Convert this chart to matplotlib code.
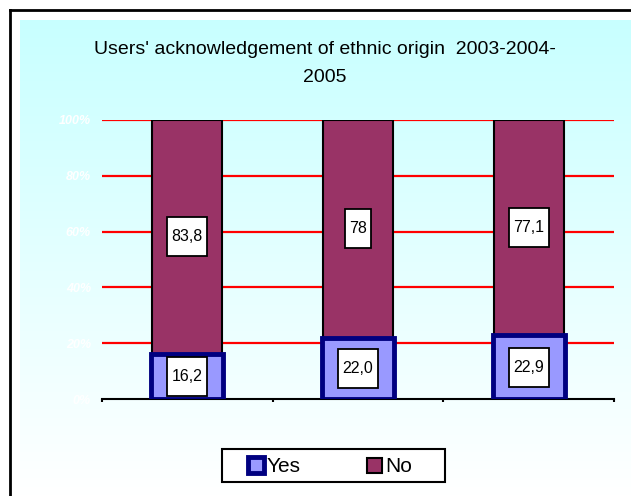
import numpy as np
import matplotlib.pyplot as plt
from matplotlib.lines import Line2D
from matplotlib.patches import Rectangle
from matplotlib.path import Path

# data
years = ['2003', '2004', '2005']
yes_vals = [16.2, 22.0, 22.9]
no_vals = [83.8, 78, 77.1]
yes_labels = ['16,2', '22,0', '22,9']
no_labels = ['83,8', '78', '77,1']
yticks = [0, 20, 40, 60, 80, 100]
ytick_labels = ['0%', '20%', '40%', '60%', '80%', '100%']
series = ['Yes', 'No']

W, H = 631, 496
fig = plt.figure(figsize=(W / 100, H / 100), dpi=100)
fig.patch.set_facecolor('white')


def fx(px):
    return px / W


def fy(py):
    # pixel rows counted from the top
    return 1 - py / H


# gradient background panel (cyan -> white)
bg = fig.add_axes([fx(20), 0, 1 - fx(20), fy(20)], zorder=0)
grad = np.linspace(0, 1, 256).reshape(-1, 1)
top = np.array([200, 255, 255]) / 255
bot = np.array([255, 255, 255]) / 255
img = top[None, None, :] * (1 - grad[:, :, None]) + bot[None, None, :] * grad[:, :, None]
bg.imshow(img, aspect='auto', extent=[0, 1, 0, 1], origin='upper')
bg.set_axis_off()

# outer border (left + top lines only visible)
fig.add_artist(Line2D([fx(10), fx(10)], [0, fy(10)], color='black', lw=2))
fig.add_artist(Line2D([fx(10), 1], [fy(10), fy(10)], color='black', lw=2))

ax = fig.add_axes([fx(102), fy(399), 512 / W, 279 / H], zorder=1)
ax.patch.set_alpha(0)
x = np.arange(len(years))
w = 0.41

for yv in yticks[1:]:
    ax.axhline(yv, color='red', lw=1.6, zorder=1)

ax.bar(x, no_vals, w, bottom=yes_vals, color='#993366', edgecolor='black', lw=1.5, zorder=2)
ax.bar(x, yes_vals, w + 0.01, color='#9999FF', edgecolor='#000080', lw=3.5, zorder=3)


# label box: a bit taller than wide, like the original
def tallbox(x0, y0, width, height, mutation_size):
    px, py = 0.28 * mutation_size, 0.75 * mutation_size
    a, b = x0 - px, y0 - py
    c, d = x0 + width + px, y0 + height + py
    return Path([(a, b), (c, b), (c, d), (a, d), (a, b)], closed=True)


box = dict(boxstyle=tallbox, fc='white', ec='black', lw=1.3)
for i in range(len(years)):
    ax.text(x[i], yes_vals[i] / 2, yes_labels[i], ha='center', va='center',
            fontsize=11.5, family='Liberation Sans', bbox=box, zorder=5)
    ax.text(x[i], yes_vals[i] + no_vals[i] / 2, no_labels[i], ha='center', va='center',
            fontsize=11.5, family='Liberation Sans', bbox=box, zorder=5)

ax.set_xlim(-0.5, 2.5)
ax.set_ylim(0, 100)
ax.set_yticks(yticks)
ax.set_yticklabels(ytick_labels, color='white', fontsize=9, fontstyle='italic',
                   fontweight='bold', family='Liberation Sans')
ax.tick_params(axis='y', length=0, pad=8)
ax.set_xticks([])
ax.set_xticks([-0.5, 0.5, 1.5, 2.5], minor=True)
ax.tick_params(axis='x', which='minor', length=2.5, width=1.5, direction='out')
for s in ['left', 'right', 'top']:
    ax.spines[s].set_visible(False)
ax.spines['bottom'].set_linewidth(1.5)

fig.text(fx(325), fy(50), "Users' acknowledgement of ethnic origin  2003-2004-",
         ha='center', va='center', fontsize=14, family='Liberation Sans')
fig.text(fx(325), fy(78), "2005", ha='center', va='center', fontsize=14,
         family='Liberation Sans')

# legend, laid out by hand
fig.add_artist(Rectangle((fx(222), fy(482)), 223 / W, 33 / H, fc='white', ec='black',
                         lw=1.5, transform=fig.transFigure, zorder=5))
fig.add_artist(Rectangle((fx(248), fy(473)), 16 / W, 16 / H, fc='#9999FF', ec='#000080',
                         lw=3.5, transform=fig.transFigure, zorder=6))
fig.add_artist(Rectangle((fx(367), fy(473)), 15 / W, 15 / H, fc='#993366', ec='black',
                         lw=1.5, transform=fig.transFigure, zorder=6))
fig.text(fx(267), fy(466), series[0], ha='left', va='center', fontsize=15,
         family='Liberation Sans', zorder=7)
fig.text(fx(385), fy(466), series[1], ha='left', va='center', fontsize=15,
         family='Liberation Sans', zorder=7)

fig.savefig('out.png', dpi=100)
